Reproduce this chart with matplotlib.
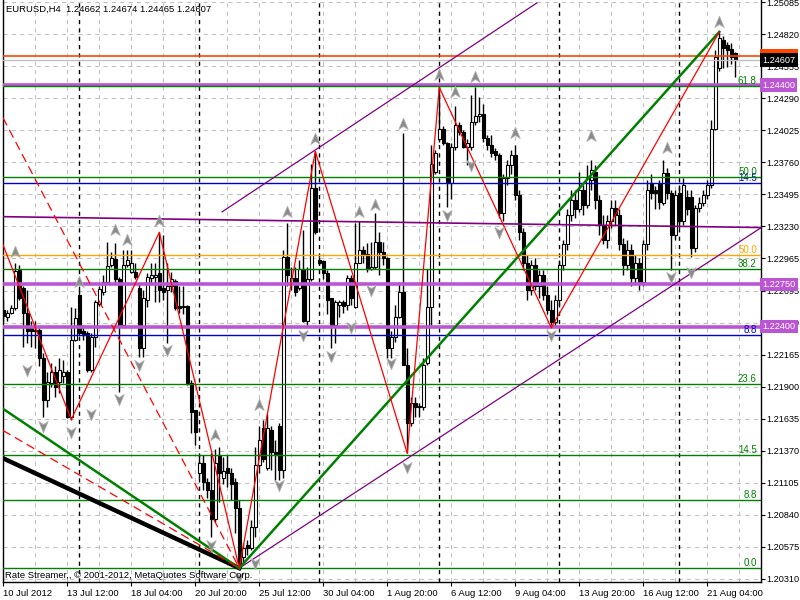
import numpy as np
import matplotlib.pyplot as plt
from matplotlib.path import Path
from matplotlib.transforms import blended_transform_factory

plt.rcParams['font.family'] = ['Liberation Sans', 'DejaVu Sans']

# EURUSD H4 candles, 10 Jul 20:00 .. 21 Aug 2012 (one row = 10 bars)
opens = [
    1.2254, 1.2248, 1.2251, 1.2255, 1.2287, 1.2272, 1.2251, 1.2239, 1.2236, 1.2237,
    1.2214, 1.2179, 1.2193, 1.2202, 1.2194, 1.2199, 1.2202, 1.2165, 1.2229, 1.2266,
    1.2236, 1.2235, 1.2204, 1.2231, 1.2259, 1.2269, 1.2277, 1.2291, 1.2296, 1.2279,
    1.2241, 1.2291, 1.2285, 1.2285, 1.2272, 1.2222, 1.2262, 1.2280, 1.2281, 1.2284,
    1.2272, 1.2270, 1.2274, 1.2278, 1.2257, 1.2257, 1.2257, 1.2193, 1.2171, 1.2119,
    1.2127, 1.2111, 1.2105, 1.2081, 1.2134, 1.2115, 1.2123, 1.2119, 1.2111, 1.2090,
    1.2049, 1.2059, 1.2057, 1.2074, 1.2125, 1.2156, 1.2123, 1.2154, 1.2136, 1.2158,
    1.2121, 1.2298, 1.2276, 1.2280, 1.2272, 1.2288, 1.2245, 1.2279, 1.2355, 1.2295,
    1.2294, 1.2284, 1.2264, 1.2241, 1.2258, 1.2260, 1.2258, 1.2280, 1.2256, 1.2293,
    1.2303, 1.2300, 1.2288, 1.2289, 1.2310, 1.2302, 1.2297, 1.2222, 1.2231, 1.2248,
    1.2269, 1.2208, 1.2160, 1.2177, 1.2173, 1.2173, 1.2210, 1.2256, 1.2368, 1.2395,
    1.2404, 1.2392, 1.2359, 1.2389, 1.2407, 1.2401, 1.2389, 1.2389, 1.2409, 1.2414,
    1.2416, 1.2396, 1.2390, 1.2385, 1.2382, 1.2334, 1.2363, 1.2374, 1.2382, 1.2349,
    1.2318, 1.2293, 1.2270, 1.2291, 1.2274, 1.2283, 1.2266, 1.2254, 1.2244, 1.2262,
    1.2291, 1.2308, 1.2332, 1.2345, 1.2337, 1.2353, 1.2341, 1.2361, 1.2368, 1.2345,
    1.2324, 1.2312, 1.2327, 1.2338, 1.2332, 1.2308, 1.2291, 1.2303, 1.2280, 1.2293,
    1.2277, 1.2308, 1.2359, 1.2353, 1.2359, 1.2342, 1.2367, 1.2351, 1.2316, 1.2351,
    1.2327, 1.2347, 1.2347, 1.2305, 1.2338, 1.2342, 1.2349, 1.2357, 1.2404, 1.2454,
    1.2477, 1.2473, 1.2470, 1.24662,
]
highs = [
    1.2262, 1.2254, 1.2258, 1.2293, 1.2291, 1.2274, 1.2270, 1.2245, 1.2245, 1.2239,
    1.2218, 1.2202, 1.2210, 1.2207, 1.2214, 1.2212, 1.2204, 1.2256, 1.2255, 1.2270,
    1.2241, 1.2236, 1.2235, 1.2262, 1.2274, 1.2283, 1.2310, 1.2302, 1.2309, 1.2281,
    1.2303, 1.2303, 1.2303, 1.2293, 1.2276, 1.2270, 1.2284, 1.2293, 1.2293, 1.2318,
    1.2316, 1.2293, 1.2285, 1.2279, 1.2274, 1.2274, 1.2258, 1.2196, 1.2171, 1.2134,
    1.2134, 1.2115, 1.2135, 1.2139, 1.2140, 1.2132, 1.2134, 1.2123, 1.2115, 1.2096,
    1.2061, 1.2063, 1.2080, 1.2140, 1.2158, 1.2163, 1.2168, 1.2158, 1.2146, 1.2160,
    1.2303, 1.2326, 1.2289, 1.2289, 1.2295, 1.2320, 1.2289, 1.2375, 1.2385, 1.2298,
    1.2295, 1.2287, 1.2264, 1.2262, 1.2262, 1.2262, 1.2283, 1.2283, 1.2326, 1.2327,
    1.2307, 1.2309, 1.2310, 1.2334, 1.2318, 1.2310, 1.2298, 1.2236, 1.2258, 1.2277,
    1.2400, 1.2222, 1.2182, 1.2182, 1.2177, 1.2214, 1.2288, 1.2390, 1.2386, 1.2438,
    1.2406, 1.2393, 1.2392, 1.2423, 1.2409, 1.2403, 1.2395, 1.2432, 1.2438, 1.2430,
    1.2424, 1.2399, 1.2399, 1.2388, 1.2384, 1.2366, 1.2378, 1.2386, 1.2390, 1.2353,
    1.2322, 1.2299, 1.2295, 1.2297, 1.2287, 1.2287, 1.2274, 1.2262, 1.2266, 1.2295,
    1.2312, 1.2337, 1.2353, 1.2353, 1.2368, 1.2357, 1.2374, 1.2378, 1.2374, 1.2349,
    1.2332, 1.2332, 1.2345, 1.2345, 1.2337, 1.2313, 1.2312, 1.2308, 1.2299, 1.2297,
    1.2312, 1.2361, 1.2366, 1.2356, 1.2361, 1.2378, 1.2371, 1.2353, 1.2353, 1.2357,
    1.2363, 1.2353, 1.2353, 1.2341, 1.2347, 1.2353, 1.2361, 1.2411, 1.2469, 1.2484,
    1.2481, 1.2476, 1.2475, 1.24674,
]
lows = [
    1.2244, 1.2245, 1.2250, 1.2254, 1.2262, 1.2223, 1.2226, 1.2223, 1.2222, 1.2207,
    1.2165, 1.2173, 1.2190, 1.2182, 1.2185, 1.2193, 1.2164, 1.2163, 1.2228, 1.2233,
    1.2229, 1.2202, 1.2202, 1.2223, 1.2257, 1.2266, 1.2276, 1.2289, 1.2277, 1.2186,
    1.2240, 1.2289, 1.2284, 1.2279, 1.2215, 1.2215, 1.2256, 1.2276, 1.2260, 1.2260,
    1.2262, 1.2226, 1.2269, 1.2254, 1.2251, 1.2250, 1.2192, 1.2152, 1.2142, 1.2115,
    1.2105, 1.2098, 1.2066, 1.2078, 1.2095, 1.2110, 1.2107, 1.2096, 1.2069, 1.2040,
    1.2045, 1.2051, 1.2055, 1.2066, 1.2119, 1.2128, 1.2121, 1.2121, 1.2113, 1.2113,
    1.2115, 1.2274, 1.2270, 1.2265, 1.2270, 1.2244, 1.2241, 1.2278, 1.2317, 1.2291,
    1.2279, 1.2250, 1.2222, 1.2226, 1.2248, 1.2251, 1.2254, 1.2258, 1.2255, 1.2293,
    1.2293, 1.2285, 1.2287, 1.2288, 1.2283, 1.2291, 1.2214, 1.2214, 1.2227, 1.2247,
    1.2208, 1.2135, 1.2158, 1.2165, 1.2165, 1.2171, 1.2208, 1.2241, 1.2366, 1.2393,
    1.2390, 1.2339, 1.2346, 1.2386, 1.2399, 1.2388, 1.2374, 1.2386, 1.2407, 1.2409,
    1.2393, 1.2386, 1.2380, 1.2378, 1.2330, 1.2327, 1.2357, 1.2366, 1.2345, 1.2312,
    1.2287, 1.2262, 1.2266, 1.2270, 1.2264, 1.2262, 1.2250, 1.2239, 1.2240, 1.2258,
    1.2287, 1.2303, 1.2327, 1.2330, 1.2335, 1.2332, 1.2338, 1.2353, 1.2337, 1.2316,
    1.2308, 1.2305, 1.2322, 1.2324, 1.2303, 1.2283, 1.2287, 1.2274, 1.2276, 1.2270,
    1.2274, 1.2303, 1.2346, 1.2337, 1.2337, 1.2341, 1.2346, 1.2287, 1.2312, 1.2322,
    1.2324, 1.2332, 1.2298, 1.2302, 1.2335, 1.2340, 1.2346, 1.2355, 1.2403, 1.2452,
    1.2454, 1.2455, 1.2457, 1.24465,
]
closes = [
    1.2249, 1.2251, 1.2255, 1.2286, 1.2264, 1.2251, 1.2236, 1.2236, 1.2237, 1.2214,
    1.2179, 1.2194, 1.2202, 1.2190, 1.2204, 1.2202, 1.2165, 1.2229, 1.2247, 1.2235,
    1.2234, 1.2204, 1.2231, 1.2260, 1.2271, 1.2277, 1.2290, 1.2297, 1.2279, 1.2241,
    1.2291, 1.2295, 1.2293, 1.2281, 1.2222, 1.2264, 1.2281, 1.2283, 1.2283, 1.2270,
    1.2269, 1.2274, 1.2279, 1.2255, 1.2255, 1.2256, 1.2193, 1.2169, 1.2153, 1.2127,
    1.2111, 1.2105, 1.2081, 1.2127, 1.2119, 1.2120, 1.2119, 1.2110, 1.2090, 1.2041,
    1.2057, 1.2057, 1.2074, 1.2125, 1.2146, 1.2130, 1.2156, 1.2136, 1.2134, 1.2121,
    1.2298, 1.2283, 1.2280, 1.2269, 1.2288, 1.2245, 1.2279, 1.2355, 1.2318, 1.2293,
    1.2284, 1.2262, 1.2241, 1.2260, 1.2260, 1.2257, 1.2280, 1.2264, 1.2293, 1.2303,
    1.2300, 1.2288, 1.2289, 1.2310, 1.2302, 1.2297, 1.2222, 1.2231, 1.2248, 1.2269,
    1.2208, 1.2160, 1.2177, 1.2173, 1.2174, 1.2208, 1.2256, 1.2375, 1.2384, 1.2404,
    1.2392, 1.2359, 1.2389, 1.2407, 1.2401, 1.2389, 1.2392, 1.2409, 1.2414, 1.2416,
    1.2396, 1.2390, 1.2384, 1.2382, 1.2334, 1.2363, 1.2374, 1.2382, 1.2349, 1.2318,
    1.2293, 1.2270, 1.2291, 1.2274, 1.2283, 1.2266, 1.2254, 1.2244, 1.2262, 1.2291,
    1.2308, 1.2332, 1.2345, 1.2337, 1.2353, 1.2341, 1.2363, 1.2370, 1.2345, 1.2324,
    1.2312, 1.2327, 1.2338, 1.2332, 1.2308, 1.2291, 1.2303, 1.2280, 1.2293, 1.2277,
    1.2308, 1.2353, 1.2351, 1.2351, 1.2343, 1.2367, 1.2351, 1.2316, 1.2349, 1.2327,
    1.2357, 1.2337, 1.2305, 1.2338, 1.2342, 1.2349, 1.2357, 1.2404, 1.2463, 1.2479,
    1.2471, 1.2469, 1.2463, 1.24607,
]

# time axis
date_tick_bars = [0, 16, 32, 48, 64, 80, 96, 112, 128, 144, 160, 176]
date_tick_labels = ['10 Jul 2012', '13 Jul 12:00', '18 Jul 04:00', '20 Jul 20:00',
                    '25 Jul 12:00', '30 Jul 04:00', '1 Aug 20:00', '6 Aug 12:00',
                    '9 Aug 04:00', '13 Aug 20:00', '16 Aug 12:00', '21 Aug 04:00']
week_start_bars = [19, 49, 79, 109, 139, 169]

# price axis
price_ticks = [1.25085, 1.24820, 1.24555, 1.24290, 1.24025, 1.23760, 1.23495, 1.23230,
               1.22965, 1.22695, 1.22430, 1.22165, 1.21900, 1.21635, 1.21370, 1.21105,
               1.20840, 1.20575, 1.20310]

# zigzag swing points
zigzag_bars = [-2, 17, 39, 59, 78, 101, 109, 137, 179]
zigzag_prices = [1.2324, 1.2163, 1.2318, 1.2040, 1.2385, 1.2135, 1.2438, 1.2239, 1.2484]

# fractal arrows
up_arrow_bars = [3, 19, 28, 31, 39, 53, 64, 71, 78, 89, 93, 100, 109, 113, 118, 128, 147, 166, 179]
up_arrow_prices = [1.2302, 1.2277, 1.2320, 1.2312, 1.2327, 1.2150, 1.2175, 1.2335, 1.2395,
                   1.2335, 1.2341, 1.2408, 1.2448, 1.2434, 1.2447, 1.2400, 1.2398, 1.2388, 1.2492]
down_arrow_bars = [6, 10, 17, 22, 29, 34, 41, 52, 59, 63, 69, 75, 82, 87, 92, 97, 101,
                   111, 117, 124, 137, 167, 172]
down_arrow_prices = [1.2204, 1.2158, 1.2153, 1.2168, 1.2180, 1.2208, 1.2221, 1.2059, 1.2033,
                     1.2044, 1.2109, 1.2233, 1.2216, 1.2240, 1.2270, 1.2210, 1.2124,
                     1.2332, 1.2374, 1.2318, 1.2233, 1.2281, 1.2285]

# fibonacci levels
green_fib_labels = ['0.0', '8.8', '14.5', '23.6', '38.2', '50.0', '61.8']
green_fib_prices = [1.20401, 1.20964, 1.21337, 1.21924, 1.22877, 1.23638, 1.24392]
blue_fib_labels = ['8.8', '14.5']
blue_fib_prices = [1.22330, 1.23589]
orange_fib_labels = ['50.0']
orange_fib_prices = [1.22993]

# horizontal levels with price tags
level_prices = [1.24400, 1.22750, 1.22400]
bid_price = 1.24607
ask_line_price = 1.24640

fig = plt.figure(figsize=(8, 6), dpi=100)
ax = fig.add_axes([3 / 800, 18 / 600, 758 / 800, 582 / 600])
ax.set_xlim(-0.075, 189.425)
ax.set_ylim(1.20285, 1.25104)
trans = blended_transform_factory(ax.transAxes, ax.transData)

# grid
for b in range(8, 190, 8):
    ax.axvline(b, color='#c0c0c0', lw=0.75, dashes=(4, 4), zorder=0)
for p in price_ticks:
    ax.axhline(p, color='#c0c0c0', lw=0.75, dashes=(4, 4), zorder=0)
for b in week_start_bars:
    ax.axvline(b, color='black', lw=1, dashes=(3, 3), zorder=1)

# candles
x = np.arange(len(opens))
o = np.array(opens); c = np.array(closes)
ax.vlines(x, lows, highs, color='black', lw=1, zorder=2)
bottom = np.minimum(o, c)
height = np.maximum(np.abs(c - o), 0.00003)
face = np.where(c >= o, 'white', 'black')
ax.bar(x, height, bottom=bottom, width=0.72, color=face, edgecolor='black',
       linewidth=0.8, zorder=2.5)

# horizontal lines
ax.axhline(ask_line_price, color='#ff4500', lw=1.2, zorder=3)
ax.axhline(bid_price, color='#c0c0c0', lw=1, zorder=3)
for p in level_prices:
    ax.axhline(p, color='#ba55d3', lw=2.6, zorder=3)
for lbl, p in zip(orange_fib_labels, orange_fib_prices):
    ax.axhline(p, color='#ffa500', lw=1, zorder=3.2)
    ax.text(0.9945, p, lbl, transform=trans, ha='right', va='bottom', color='#ffa500', fontsize=7)
for lbl, p in zip(blue_fib_labels, blue_fib_prices):
    ax.axhline(p, color='#0000cd', lw=1, zorder=3.2)
    ax.text(0.9945, p, lbl, transform=trans, ha='right', va='bottom', color='#0000cd', fontsize=7)
for lbl, p in zip(green_fib_labels, green_fib_prices):
    ax.axhline(p, color='#008000', lw=1, zorder=3.3)
    ax.text(0.9945, p, lbl, transform=trans, ha='right', va='bottom', color='#008000', fontsize=7)

# trend lines
ax.plot([-0.1, 189.5], [1.2331, 1.2322], color='#800080', lw=1.2, zorder=3.4)
ax.plot([59, 189.5], [1.2040, 1.2322], color='#800080', lw=0.9, zorder=3.4)
ax.plot([54.7, 133.4], [1.2335, 1.2508], color='#800080', lw=0.9, zorder=3.4)
ax.plot([-0.1, 59], [1.2131, 1.2040], color='black', lw=3.2, zorder=3.5)
ax.plot([-0.1, 59], [1.2172, 1.2040], color='#008000', lw=1.8, zorder=3.6)
ax.plot([59, 179], [1.2040, 1.2484], color='#008000', lw=1.8, zorder=3.6)
ax.plot([-0.1, 59], [1.2413, 1.2040], color='red', lw=0.9, dashes=(7, 4), zorder=3.6)
ax.plot([-0.1, 59], [1.2154, 1.2040], color='red', lw=0.9, dashes=(7, 4), zorder=3.6)
ax.plot(zigzag_bars, zigzag_prices, color='red', lw=0.9, zorder=3.7)

# fractal arrows
up_path = Path([(0, 1), (0.75, -0.8), (0, -0.3), (-0.75, -0.8), (0, 1)],
               [Path.MOVETO, Path.LINETO, Path.LINETO, Path.LINETO, Path.CLOSEPOLY])
down_path = Path([(0, -1), (0.75, 0.8), (0, 0.3), (-0.75, 0.8), (0, -1)],
                 [Path.MOVETO, Path.LINETO, Path.LINETO, Path.LINETO, Path.CLOSEPOLY])
ax.plot(up_arrow_bars, up_arrow_prices, ls='none', marker=up_path, ms=9,
        mfc='#8a8a8a', mec='#b0b0b0', mew=0.6, zorder=4)
ax.plot(down_arrow_bars, down_arrow_prices, ls='none', marker=down_path, ms=9,
        mfc='#8a8a8a', mec='#b0b0b0', mew=0.6, zorder=4)

# axes styling
ax.spines['top'].set_visible(False)
for s in ['left', 'right', 'bottom']:
    ax.spines[s].set_linewidth(1)
ax.yaxis.tick_right()
ax.set_yticks(price_ticks, ['%.5f' % p for p in price_ticks])
ax.set_xticks(date_tick_bars, date_tick_labels)
for lab in ax.get_xticklabels():
    lab.set_ha('left')
ax.tick_params(axis='both', length=3, width=0.8, labelsize=6.6, pad=1)
ax.tick_params(axis='x', labelsize=6.8, pad=2)

# price tags on the right
box = dict(boxstyle='square,pad=0.25', ec='none')
ax.text(1.0015, ask_line_price, '1.24662', transform=trans, ha='left', va='center', fontsize=6.6,
        color='white', bbox=dict(box, fc='#ff4500'), clip_on=False, zorder=5)
ax.text(1.0015, bid_price, '%.5f' % bid_price, transform=trans, ha='left', va='center', fontsize=6.6,
        color='white', bbox=dict(box, fc='black'), clip_on=False, zorder=6)
for p in level_prices:
    ax.text(1.0015, p, '%.5f' % p, transform=trans, ha='left', va='center', fontsize=6.6,
            color='white', bbox=dict(box, fc='#ba55d3'), clip_on=False, zorder=5)

ax.text(0.004, 0.984, 'EURUSD,H4  1.24662 1.24674 1.24465 1.24607', transform=ax.transAxes,
        ha='left', va='center', fontsize=6.8)
ax.text(0.003, 0.012, 'Rate Streamer,, \u00a9 2001-2012, MetaQuotes Software Corp.', transform=ax.transAxes,
        ha='left', va='center', fontsize=6.8, zorder=6)

fig.savefig('out.png', dpi=100)
